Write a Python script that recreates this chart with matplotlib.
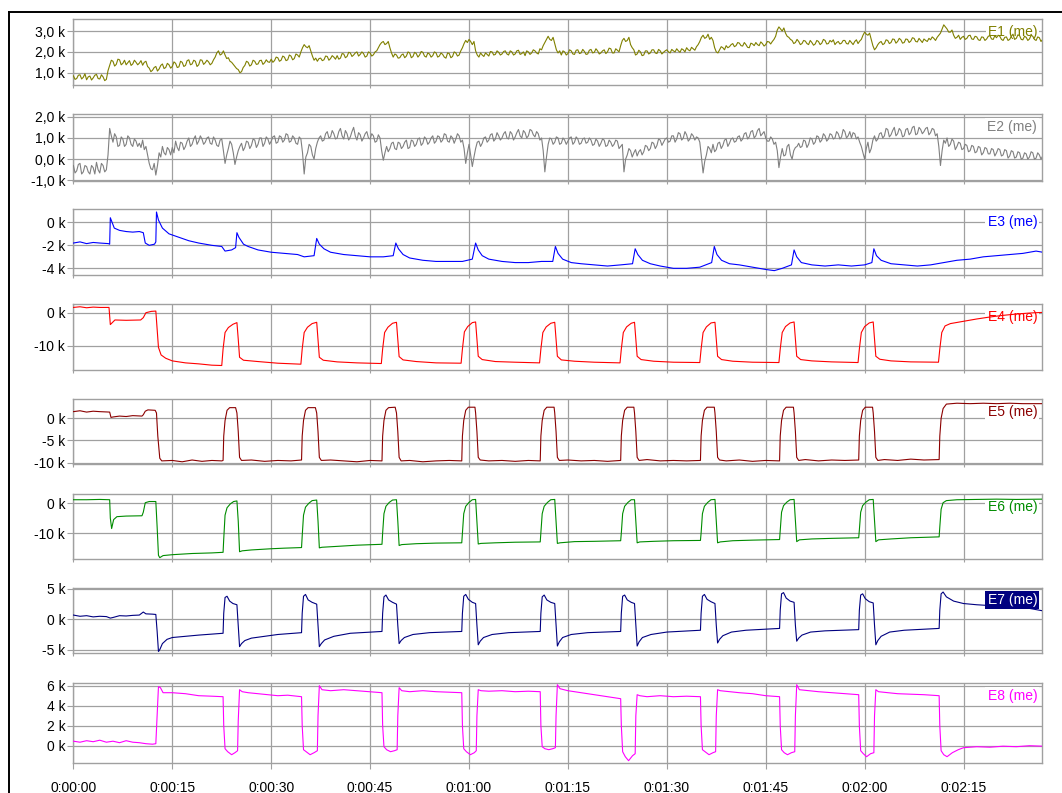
import numpy as np
import matplotlib
matplotlib.use("Agg")
import matplotlib.pyplot as plt
from matplotlib.lines import Line2D

plt.rcParams['font.family'] = ['Liberation Sans', 'DejaVu Sans']

# E1 / E2: samples every 0.5 s (e1, e2) plus the in-between samples at +0.25 s (e1_mid, e2_mid), in k
step = 0.5
e1 = [0.85, 0.72, 0.9, 0.78, 0.66, 0.84, 0.75, 0.92, 0.7, 0.8,
      0.68, 1.35, 1.55, 1.4, 1.62, 1.45, 1.38, 1.58, 1.42, 1.5,
      1.46, 1.36, 1.55, 1.22, 1.12, 1.3, 1.18, 1.42, 1.25, 1.38,
      1.3, 1.45, 1.28, 1.5, 1.35, 1.62, 1.42, 1.55, 1.38, 1.6,
      1.48, 1.52, 1.45, 1.75, 2.05, 1.9, 1.85, 1.72, 1.5, 1.3,
      1.15, 1.05, 1.35, 1.5, 1.38, 1.55, 1.42, 1.6, 1.48, 1.52,
      1.65, 1.58, 1.72, 1.6, 1.75, 1.62, 1.8, 1.68, 1.85, 2.0,
      2.35, 2.2, 2.05, 1.6, 1.55, 1.7, 1.62, 1.78, 1.68, 1.75,
      1.82, 1.7, 1.9, 1.78, 1.95, 1.85, 2.0, 1.88, 1.92, 1.8,
      1.95, 1.86, 2.05, 2.35, 2.5, 2.4, 2.2, 1.75, 1.85, 1.72,
      1.9, 1.8, 1.95, 1.78, 1.92, 1.85, 1.98, 1.75, 1.9, 1.82,
      1.95, 1.8, 1.88, 1.7, 1.92, 1.78, 1.95, 1.85, 2.2, 2.55,
      2.6, 2.35, 2.05, 1.75, 1.85, 1.95, 1.8, 2.0, 1.88, 1.98,
      1.9, 2.05, 1.85, 2.0, 1.9, 2.08, 1.92, 1.82, 2.0, 1.95,
      2.05, 1.9, 2.1, 2.45, 2.75, 2.55, 2.4, 1.95, 1.85, 2.0,
      1.92, 2.05, 1.88, 2.1, 1.95, 2.02, 1.9, 2.12, 1.98, 2.05,
      1.95, 2.1, 2.0, 2.15, 1.95, 2.08, 2.3, 2.65, 2.55, 2.35,
      2.1, 1.9, 2.0, 1.85, 2.05, 1.95, 2.1, 1.92, 2.05, 1.98,
      2.1, 1.95, 2.05, 2.15, 1.98, 2.1, 2.2, 2.05, 2.15, 2.25,
      2.5, 2.8, 2.7, 2.6, 2.55, 2.0, 2.1, 2.2, 2.3, 2.25,
      2.4, 2.3, 2.42, 2.28, 2.35, 2.2, 2.38, 2.45, 2.3, 2.4,
      2.35, 2.48, 2.5, 2.75, 3.2, 3.0, 2.9, 2.7, 2.55, 2.45,
      2.5, 2.4, 2.52, 2.35, 2.45, 2.38, 2.5, 2.42, 2.55, 2.4,
      2.48, 2.35, 2.5, 2.42, 2.55, 2.38, 2.45, 2.5, 2.4, 2.6,
      2.95, 2.8, 2.6, 2.1, 2.35, 2.5, 2.4, 2.55, 2.45, 2.6,
      2.5, 2.58, 2.45, 2.6, 2.52, 2.65, 2.48, 2.55, 2.62, 2.5,
      2.58, 2.65, 2.7, 2.9, 3.3, 3.1, 2.95, 2.8, 2.7, 2.6,
      2.75, 2.65, 2.8, 2.6, 2.72, 2.55, 2.7, 2.62, 2.78, 2.6,
      2.68, 2.75, 2.55, 2.72, 2.6, 2.85, 2.65, 2.78, 2.58, 2.7,
      2.62, 2.75, 2.55, 2.68, 2.6]

e1_mid = [0.68, 0.88, 0.7, 0.95, 0.8, 0.65, 0.88, 0.72, 0.9, 0.62,
          1.1, 1.6, 1.32, 1.65, 1.38, 1.6, 1.48, 1.35, 1.6, 1.38,
          1.58, 1.5, 1.3, 1.05, 1.25, 1.08, 1.35, 1.2, 1.45, 1.22,
          1.52, 1.25, 1.55, 1.3, 1.58, 1.38, 1.6, 1.3, 1.62, 1.4,
          1.6, 1.38, 1.62, 1.95, 1.85, 2.05, 1.68, 1.55, 1.4, 1.2,
          1.0, 1.25, 1.55, 1.32, 1.6, 1.4, 1.58, 1.4, 1.62, 1.5,
          1.5, 1.75, 1.55, 1.8, 1.58, 1.85, 1.62, 1.9, 1.75, 2.2,
          2.25, 2.3, 1.8, 1.7, 1.68, 1.58, 1.8, 1.6, 1.82, 1.65,
          1.65, 1.92, 1.72, 1.98, 1.78, 1.95, 1.8, 2.0, 1.75, 2.0,
          1.8, 2.0, 2.2, 2.45, 2.35, 2.5, 1.95, 1.9, 1.7, 1.85,
          1.72, 2.0, 1.72, 1.98, 1.75, 2.02, 1.8, 1.95, 1.75, 2.0,
          1.75, 1.95, 1.75, 1.95, 1.72, 2.0, 1.8, 2.05, 2.4, 2.45,
          2.5, 2.5, 1.85, 1.95, 1.78, 1.88, 2.02, 1.85, 2.05, 1.85,
          2.02, 1.9, 2.05, 1.85, 2.05, 1.88, 2.0, 2.05, 1.88, 2.1,
          1.95, 2.15, 2.3, 2.6, 2.6, 2.7, 2.1, 2.05, 2.05, 1.85,
          2.1, 1.9, 2.08, 1.92, 2.12, 1.88, 2.08, 1.95, 2.15, 1.9,
          2.05, 1.92, 2.18, 1.95, 2.15, 2.0, 2.55, 2.5, 2.7, 2.2,
          1.85, 2.08, 1.82, 2.05, 1.9, 2.1, 1.95, 2.12, 1.9, 2.05,
          2.0, 2.12, 2.0, 2.05, 2.15, 2.0, 2.1, 2.22, 2.08, 2.35,
          2.7, 2.65, 2.85, 2.7, 2.2, 1.95, 2.25, 2.1, 2.2, 2.35,
          2.25, 2.45, 2.3, 2.45, 2.22, 2.42, 2.3, 2.35, 2.48, 2.28,
          2.5, 2.38, 2.6, 3.05, 3.1, 3.15, 2.75, 2.6, 2.4, 2.6,
          2.35, 2.55, 2.4, 2.55, 2.32, 2.55, 2.35, 2.6, 2.38, 2.55,
          2.58, 2.45, 2.38, 2.55, 2.4, 2.55, 2.35, 2.58, 2.52, 2.8,
          2.85, 2.9, 2.3, 2.2, 2.45, 2.35, 2.58, 2.4, 2.62, 2.42,
          2.65, 2.42, 2.62, 2.45, 2.68, 2.5, 2.65, 2.45, 2.55, 2.65,
          2.72, 2.55, 2.8, 3.1, 3.2, 2.95, 3.05, 2.65, 2.8, 2.7,
          2.6, 2.78, 2.62, 2.75, 2.58, 2.72, 2.55, 2.75, 2.62, 2.78,
          2.8, 2.6, 2.7, 2.55, 2.75, 2.6, 2.82, 2.6, 2.75, 2.55,
          2.8, 2.6, 2.72, 2.5]

e2 = [-0.3, -0.55, -0.2, -0.6, -0.35, -0.7, -0.4, -0.15, -0.65, -0.3,
      -0.5, 1.45, 0.8, 1.05, 0.65, 0.95, 0.7, 1.0, 0.6, 0.85,
      0.75, 0.9, 0.6, -0.2, -0.5, -0.75, 0.3, 0.6, 0.2, 0.45,
      0.55, 0.85, 0.4, 0.75, 0.6, 1.0, 0.7, 1.1, 0.85, 0.95,
      0.8, 1.05, 0.7, 0.9, 0.6, 0.95, -0.2, 0.5, 0.7, -0.25,
      0.4, 0.75, 0.55, 0.8, 0.65, 0.9, 0.7, 1.0, 0.75, 0.95,
      0.85, 1.1, 0.8, 1.05, 0.9, 1.15, 0.85, 1.0, 0.7, 0.95,
      -0.7, 0.3, 0.6, 0.0, 0.8, 1.1, 0.9, 1.3, 1.05, 1.2,
      1.0, 1.45, 0.95, 1.2, 1.05, 1.5, 0.9, 1.15, 1.0, 1.3,
      0.95, 1.1, 0.85, 1.0, -0.05, 0.6, 0.5, 0.8, 0.45, 0.75,
      0.6, 0.9, 0.55, 0.85, 0.7, 1.0, 0.75, 0.95, 0.8, 1.1,
      0.85, 1.05, 0.9, 1.15, 0.8, 1.0, 0.95, 1.1, 0.9, -0.2,
      0.7, -0.35, 0.5, 0.85, 0.75, 1.05, 0.9, 1.2, 0.95, 1.1,
      1.0, 1.3, 0.95, 1.2, 1.05, 1.4, 1.0, 1.25, 1.1, 1.35,
      1.05, 1.2, 1.0, -0.6, 0.7, 0.95, 0.8, 1.0, 0.75, 0.9,
      0.85, 1.05, 0.8, 0.95, 0.75, 1.0, 0.8, 0.9, 0.7, 0.85,
      0.75, 0.9, 0.65, 0.8, 0.7, 0.85, 0.6, -0.6, 0.2, 0.4,
      0.3, 0.15, 0.45, 0.35, 0.6, 0.5, 0.75, 0.65, 0.9, 0.8,
      1.0, 0.85, 1.1, 0.95, 1.2, 1.0, 1.15, 0.95, 1.1, 1.05,
      0.8, -0.65, 0.2, 0.5, 0.7, 0.45, 0.8, 0.65, 0.95, 0.75,
      1.0, 0.85, 1.1, 0.95, 1.25, 1.05, 1.35, 1.1, 1.45, 1.2,
      1.0, 0.85, 0.95, 0.8, -0.4, 0.5, 0.2, 0.7, 0.0, 0.55,
      0.75, 0.6, 0.85, 0.7, 0.95, 0.8, 1.05, 0.9, 1.1, 0.95,
      1.15, 1.0, 1.2, 1.05, 1.3, 1.1, 1.0, 1.2, 1.05, 0.6,
      0.0, 0.8, 0.5, 1.1, 0.95, 1.25, 1.1, 1.4, 1.15, 1.5,
      1.2, 1.35, 1.1, 1.45, 1.25, 1.55, 1.2, 1.4, 1.3, 1.5,
      1.25, 1.4, 1.2, -0.3, 0.9, 1.0, 0.7, 0.85, 0.6, 0.75,
      0.5, 0.65, 0.4, 0.6, 0.35, 0.55, 0.3, 0.5, 0.25, 0.45,
      0.3, 0.45, 0.2, 0.4, 0.15, 0.35, 0.1, 0.3, 0.05, 0.25,
      0.1, 0.3, 0.05, 0.2, 0.15]

e2_mid = [-0.65, -0.25, -0.7, -0.3, -0.6, -0.3, -0.7, -0.5, -0.2, -0.6,
          0.2, 1.1, 1.2, 0.6, 1.05, 0.6, 1.1, 0.7, 0.95, 0.6,
          0.55, 0.45, 0.2, -0.45, -0.2, -0.3, 0.1, 0.3, 0.55, 0.2,
          0.3, 0.55, 0.8, 0.45, 0.85, 0.6, 0.95, 0.7, 1.1, 0.7,
          1.0, 0.75, 1.05, 0.65, 0.9, 0.4, 0.2, 0.85, 0.3, 0.1,
          0.6, 0.4, 0.85, 0.5, 0.95, 0.55, 1.0, 0.6, 1.05, 0.7,
          1.05, 0.75, 1.1, 0.8, 1.2, 0.8, 1.1, 0.75, 1.05, 0.3,
          0.1, 0.7, 0.2, 0.5, 1.0, 0.85, 1.2, 1.0, 1.35, 0.95,
          1.3, 1.1, 1.35, 0.9, 1.3, 1.1, 1.25, 0.85, 1.2, 1.0,
          1.2, 0.8, 1.15, 0.4, 0.3, 0.35, 0.75, 0.5, 0.8, 0.5,
          0.8, 0.5, 0.9, 0.6, 0.95, 0.65, 1.05, 0.7, 1.0, 0.75,
          1.1, 0.8, 1.2, 0.85, 1.1, 0.75, 1.2, 0.8, 0.5, 0.3,
          0.2, 0.1, 0.8, 0.6, 1.0, 0.8, 1.15, 0.85, 1.25, 0.9,
          1.2, 1.0, 1.3, 0.9, 1.25, 1.1, 1.35, 1.0, 1.4, 1.15,
          1.3, 0.9, 0.4, 0.1, 1.0, 0.7, 1.05, 0.7, 1.0, 0.7,
          1.0, 0.7, 1.05, 0.7, 0.95, 0.75, 1.0, 0.65, 0.95, 0.6,
          0.95, 0.6, 0.9, 0.6, 0.9, 0.5, 0.7, 0.0, 0.5, 0.1,
          0.45, 0.35, 0.2, 0.65, 0.4, 0.8, 0.5, 0.95, 0.65, 0.95,
          0.8, 1.1, 0.8, 1.25, 0.9, 1.3, 0.85, 1.2, 0.9, 1.0,
          0.1, -0.1, 0.6, 0.3, 0.35, 0.75, 0.5, 0.9, 0.6, 0.95,
          0.8, 1.05, 0.85, 1.2, 0.95, 1.3, 1.0, 1.35, 1.1, 1.3,
          0.85, 1.05, 0.7, 0.4, 0.1, 0.15, 0.6, 0.2, 0.4, 0.6,
          0.55, 0.9, 0.55, 1.0, 0.7, 1.1, 0.8, 1.2, 0.85, 1.2,
          0.95, 1.3, 0.95, 1.4, 1.0, 1.3, 1.25, 0.95, 0.8, 0.3,
          0.5, 0.3, 0.9, 0.85, 1.2, 1.0, 1.45, 1.05, 1.35, 1.1,
          1.45, 1.05, 1.4, 1.15, 1.5, 1.15, 1.5, 1.2, 1.45, 1.15,
          1.45, 1.1, 0.6, 0.4, 0.75, 0.6, 0.95, 0.45, 0.8, 0.45,
          0.7, 0.35, 0.65, 0.3, 0.6, 0.2, 0.55, 0.25, 0.5, 0.15,
          0.5, 0.15, 0.45, 0.05, 0.4, 0.05, 0.35, 0.0, 0.3, 0.0,
          0.35, 0.0, 0.3, 0.0]

# E3..E8 as (time s, value k) points
e3 = [(0, -1.8), (1, -1.7), (2, -1.85), (3, -1.75), (4, -1.8), (5.3, -1.85), (5.5, -1.9),
      (5.6, 0.4), (5.8, 0.1), (6.2, -0.5), (7, -0.7), (8, -0.8), (9, -0.85), (10, -0.8),
      (10.6, -0.9), (10.9, -1.8), (11.5, -2.0), (12.3, -1.9), (12.5, -1.7), (12.6, 0.9),
      (12.9, 0.2), (13.5, -0.5), (14.5, -1.0), (16, -1.3), (17.5, -1.6), (19, -1.8), (21, -2.0),
      (22.5, -2.1), (23.0, -2.5), (24.0, -2.4), (24.6, -2.2), (24.8, -0.9), (25.1, -1.3),
      (25.8, -1.9), (26.5, -2.1), (28, -2.4), (30, -2.6), (32, -2.7), (34, -2.8), (35, -3.0),
      (36.5, -2.9), (36.9, -1.4), (37.3, -1.9), (38, -2.3), (39, -2.6), (41, -2.8), (43, -2.9),
      (45, -3.0), (47, -3.0), (48.5, -2.9), (48.9, -1.8), (49.3, -2.3), (50, -2.8), (51, -3.1),
      (53, -3.3), (55, -3.4), (57, -3.4), (59, -3.4), (60.5, -3.2), (61.0, -1.8), (61.4, -2.4),
      (62, -2.9), (63, -3.2), (65, -3.4), (67, -3.5), (69, -3.5), (71, -3.4), (72.7, -3.4),
      (73.1, -2.1), (73.5, -2.7), (74.2, -3.2), (75.5, -3.5), (77, -3.6), (79, -3.7), (81, -3.8),
      (83, -3.7), (84.8, -3.6), (85.2, -2.3), (85.6, -2.8), (86.3, -3.3), (87.5, -3.6), (89, -3.8),
      (91, -4.0), (93, -4.0), (95, -3.9), (96.8, -3.5), (97.2, -2.1), (97.6, -2.8), (98.3, -3.3),
      (99.5, -3.6), (101, -3.7), (103, -3.9), (105, -4.1), (106.3, -4.2), (107.5, -4.0),
      (108.9, -3.7), (109.3, -2.4), (109.7, -3.0), (110.4, -3.5), (112, -3.7), (114, -3.8),
      (116, -3.7), (118, -3.8), (120, -3.7), (121.1, -3.5), (121.4, -2.3), (121.8, -2.9),
      (122.5, -3.3), (124, -3.6), (126, -3.7), (128, -3.8), (130, -3.7), (132, -3.5), (134, -3.3),
      (136, -3.2), (138, -3.0), (140, -2.9), (142, -2.8), (144, -2.7), (146, -2.5), (147, -2.6)]

e4 = [(0, 1.6), (1, 1.8), (2, 1.5), (3, 1.7), (4, 1.6), (5.4, 1.6), (5.6, -3.6), (5.9, -3.0),
      (6.3, -2.2), (8, -2.3), (10.2, -2.2), (10.6, -1.5), (11, 0.0), (11.8, 0.4), (12.5, 0.5),
      (12.7, -5), (12.9, -10.5), (13.3, -12.8), (14, -13.8), (15, -14.6), (17, -15.2), (19, -15.5),
      (21, -15.9), (22.5, -16.0),
      (22.7, -11), (23.0, -6.0), (23.5, -4.5), (24.2, -3.5), (24.8, -3.0), (25.0, -8), (25.2, -13.5),
      (25.8, -14.4), (28, -14.8), (31, -15.3), (34.5, -15.6),
      (34.7, -11), (35.0, -6.0), (35.5, -4.4), (36.2, -3.3), (36.9, -2.9), (37.1, -8), (37.3, -13.5),
      (37.9, -14.4), (40, -14.9), (43, -15.2), (46.7, -15.4),
      (46.9, -11), (47.2, -6.0), (47.7, -4.4), (48.4, -3.2), (49.0, -2.9), (49.2, -8), (49.4, -13.3),
      (50, -14.3), (52, -14.8), (55, -15.2), (58.8, -15.3),
      (59.0, -11), (59.3, -5.8), (59.8, -4.2), (60.5, -3.0), (61.0, -2.8), (61.2, -8), (61.4, -13.2),
      (62, -14.2), (64, -14.8), (67, -15.0), (70.7, -15.2),
      (70.9, -11), (71.2, -6), (71.7, -4.3), (72.4, -3.2), (73.0, -2.9), (73.2, -8), (73.4, -13.2),
      (74, -14.3), (76, -14.7), (79, -15.0), (82.9, -15.2),
      (83.1, -11), (83.4, -6), (83.9, -4.3), (84.6, -3.2), (85.1, -2.9), (85.3, -8), (85.5, -13.2),
      (86.1, -14.2), (88, -14.7), (91, -15.0), (95.0, -15.1),
      (95.2, -11), (95.5, -6), (96.0, -4.3), (96.7, -3.1), (97.3, -2.9), (97.5, -8), (97.7, -13.2),
      (98.3, -14.2), (100, -14.7), (103, -15.0), (107.0, -15.1),
      (107.2, -11), (107.5, -6), (108, -4.2), (108.7, -3.1), (109.3, -2.8), (109.5, -8), (109.7, -13.2),
      (110.3, -14.2), (112, -14.6), (115, -14.9), (119.0, -15.1),
      (119.2, -11), (119.5, -6), (120, -4.2), (120.7, -3.1), (121.3, -2.8), (121.5, -8), (121.7, -13.2),
      (122.3, -14.1), (124, -14.6), (127, -14.9), (131.2, -15.0),
      (131.4, -11), (131.7, -6.0), (132.2, -4.0), (133, -3.3), (135, -2.6), (137, -1.9), (139, -1.3),
      (141, -0.8), (143, -0.4), (145, -0.1), (147, 0.1)]

e5 = [(0, 1.5), (1, 1.7), (2, 1.4), (3, 1.6), (4, 1.5), (5.5, 1.4), (5.7, 0.2), (6.0, 0.3), (7, 0.5),
      (8, 0.4), (9, 0.6), (10.4, 0.5), (10.6, 0.8), (10.9, 1.6), (11.3, 1.9), (12.4, 1.8), (12.6, 1.2),
      (12.8, -4), (13.1, -9.0), (13.4, -9.6), (15, -9.5), (16.5, -9.8), (18, -9.4), (19.5, -9.7),
      (21, -9.5), (22.5, -9.6),
      (22.7, -9.5), (22.8, -4), (23.0, -0.5), (23.3, 1.8), (23.7, 2.4), (24.6, 2.4), (24.8, 1.2),
      (25.0, -3), (25.2, -8.8), (25.5, -9.5), (27, -9.4), (29, -9.7), (31, -9.5), (33, -9.6), (34.6, -9.4),
      (34.7, -4), (34.9, -0.5), (35.2, 1.8), (35.6, 2.4), (36.7, 2.4), (36.9, 1.2), (37.1, -3), (37.3, -8.8),
      (37.6, -9.5), (39, -9.4), (41, -9.6), (43, -9.8), (45, -9.5), (46.8, -9.6),
      (46.9, -4), (47.1, -0.5), (47.4, 1.8), (47.8, 2.4), (48.8, 2.5), (49.0, 1.2), (49.2, -3), (49.4, -8.8),
      (49.7, -9.6), (51, -9.5), (53, -9.8), (55, -9.6), (57, -9.5), (58.9, -9.6),
      (59.0, -4), (59.2, -0.5), (59.5, 1.8), (59.9, 2.5), (60.9, 2.5), (61.0, 1.2), (61.2, -3), (61.4, -8.8),
      (61.7, -9.4), (63, -9.6), (65, -9.5), (67, -9.7), (69, -9.5), (70.8, -9.6),
      (70.9, -4), (71.1, -0.5), (71.4, 1.8), (71.8, 2.5), (72.9, 2.5), (73.0, 1.2), (73.2, -3), (73.4, -8.8),
      (73.7, -9.5), (75, -9.4), (77, -9.6), (79, -9.5), (81, -9.7), (83.0, -9.5),
      (83.1, -4), (83.3, -0.5), (83.6, 1.8), (84.0, 2.5), (85.0, 2.5), (85.1, 1.2), (85.3, -3), (85.5, -8.8),
      (85.8, -9.5), (87, -9.3), (89, -9.6), (91, -9.5), (93, -9.6), (95.1, -9.5),
      (95.2, -4), (95.4, -0.5), (95.7, 1.8), (96.1, 2.5), (97.2, 2.5), (97.3, 1.2), (97.5, -3), (97.7, -8.8),
      (98.0, -9.4), (99, -9.6), (101, -9.4), (103, -9.7), (105, -9.5), (107.1, -9.6),
      (107.2, -4), (107.4, -0.5), (107.7, 1.8), (108.1, 2.5), (109.2, 2.5), (109.3, 1.2), (109.5, -3),
      (109.7, -8.8), (110, -9.5), (111, -9.3), (113, -9.6), (115, -9.4), (117, -9.5), (119.1, -9.4),
      (119.2, -4), (119.4, -0.5), (119.7, 1.8), (120.1, 2.5), (121.2, 2.5), (121.3, 1.2), (121.5, -3),
      (121.7, -8.8), (122, -9.5), (123, -9.3), (125, -9.5), (127, -9.2), (129, -9.4), (131.3, -9.3),
      (131.4, -4), (131.6, 0), (131.9, 2.2), (132.4, 3.2), (134, 3.4), (136, 3.3), (138, 3.4), (140, 3.3),
      (142, 3.4), (144, 3.3), (147, 3.3)]

e6 = [(0, 1.2), (2, 1.2), (4, 1.3), (5.5, 1.2), (5.6, -5), (5.8, -8.5), (6.1, -5.5), (6.6, -4.5),
      (8, -4.3), (10.4, -4.2), (10.6, -3), (10.9, 0.2), (11.5, 0.6), (12.5, 0.6), (12.7, -8),
      (12.9, -17.5), (13.1, -18.3), (13.6, -17.6), (15, -17.3), (18, -16.9), (21, -16.7), (22.5, -16.5),
      (22.7, -16.5), (22.8, -12), (23.0, -4), (23.3, -1.5), (23.8, -0.2), (24.3, 0.6), (24.8, 0.8),
      (25.0, -6), (25.2, -16.3), (25.6, -16.0), (27, -15.7), (30, -15.3), (32, -15.1), (34.6, -14.9),
      (34.7, -11), (34.9, -4), (35.2, -1.3), (35.7, 0), (36.2, 0.9), (36.9, 1.1), (37.1, -6), (37.3, -15.0),
      (37.7, -14.8), (40, -14.5), (43, -14.1), (46.8, -13.8),
      (46.9, -10), (47.1, -3.5), (47.4, -1.0), (47.9, 0.3), (48.4, 1.1), (49.0, 1.2), (49.2, -6),
      (49.4, -14.2), (49.8, -13.9), (52, -13.6), (55, -13.4), (58.9, -13.3),
      (59.0, -10), (59.2, -3.5), (59.5, -1.0), (60.0, 0.3), (60.5, 1.2), (61.0, 1.3), (61.2, -6),
      (61.4, -13.7), (61.8, -13.5), (64, -13.3), (67, -13.1), (70.8, -13.0),
      (70.9, -10), (71.1, -3.5), (71.4, -1.0), (71.9, 0.3), (72.4, 1.2), (73.0, 1.3), (73.2, -6),
      (73.4, -13.5), (73.8, -13.3), (76, -12.9), (79, -12.8), (83.0, -12.6),
      (83.1, -10), (83.3, -3.5), (83.6, -1.0), (84.1, 0.3), (84.6, 1.2), (85.1, 1.2), (85.3, -6),
      (85.5, -13.3), (85.9, -13.0), (88, -12.8), (91, -12.6), (95.1, -12.5),
      (95.2, -10), (95.4, -3.5), (95.7, -1.0), (96.2, 0.3), (96.7, 1.2), (97.3, 1.3), (97.5, -6),
      (97.7, -13.3), (98.1, -13.0), (100, -12.6), (103, -12.4), (107.1, -12.2),
      (107.2, -9), (107.4, -3), (107.7, -0.8), (108.2, 0.4), (108.7, 1.2), (109.3, 1.3), (109.5, -6),
      (109.7, -12.9), (110.1, -12.3), (112, -12.0), (115, -11.8), (119.1, -11.6),
      (119.2, -9), (119.4, -3), (119.7, -0.8), (120.2, 0.4), (120.7, 1.2), (121.3, 1.3), (121.5, -6),
      (121.7, -12.9), (122.1, -12.3), (124, -12.0), (127, -11.6), (131.3, -11.3),
      (131.4, -8), (131.6, -2), (131.9, 0.2), (132.4, 0.9), (134, 1.2), (137, 1.3), (140, 1.4),
      (143, 1.3), (147, 1.4)]

e7 = [(0, 0.7), (1, 0.5), (2, 0.6), (3, 0.4), (4, 0.5), (5, 0.45), (5.6, 0.2), (6, 0.3), (7, 0.6),
      (8, 0.55), (9, 0.65), (10, 0.7), (10.6, 1.2), (11, 0.9), (12, 0.85), (12.5, 0.8), (12.7, -2),
      (12.9, -5.3), (13.1, -5.0), (13.5, -4.0), (14.2, -3.3), (15, -3.0), (17, -2.8), (19, -2.6),
      (22.5, -2.3),
      (22.7, -2.3), (22.8, 1), (23.0, 3.6), (23.3, 3.8), (23.7, 3.0), (24.2, 2.6), (24.8, 2.4), (25.0, -1),
      (25.2, -4.5), (25.5, -4.0), (26, -3.5), (27, -3.1), (29, -2.8), (31, -2.5), (34.6, -2.2),
      (34.7, 1), (34.9, 3.8), (35.2, 4.1), (35.6, 3.2), (36.2, 2.8), (36.9, 2.5), (37.1, -1), (37.3, -4.5),
      (37.6, -4.0), (38.1, -3.4), (39.5, -2.8), (42, -2.3), (46.8, -2.0),
      (46.9, 1), (47.1, 3.7), (47.4, 4.0), (47.8, 3.2), (48.4, 2.8), (49.0, 2.5), (49.2, -1), (49.4, -4.0),
      (49.7, -3.5), (50.2, -3.0), (51.5, -2.5), (54, -2.2), (58.9, -2.0),
      (59.0, 1), (59.2, 3.8), (59.5, 4.1), (59.9, 3.3), (60.5, 2.8), (61.0, 2.6), (61.2, -1), (61.4, -4.2),
      (61.7, -3.6), (62.2, -3.0), (63.5, -2.5), (66, -2.2), (70.8, -2.0),
      (70.9, 1), (71.1, 3.7), (71.4, 4.0), (71.8, 3.2), (72.4, 2.8), (73.0, 2.6), (73.2, -1), (73.4, -4.4),
      (73.7, -3.7), (74.2, -3.0), (75.5, -2.5), (78, -2.2), (83.0, -2.0),
      (83.1, 1), (83.3, 3.8), (83.6, 4.0), (84.0, 3.2), (84.6, 2.8), (85.1, 2.6), (85.3, -1), (85.5, -4.4),
      (85.8, -3.7), (86.3, -3.0), (87.6, -2.5), (90, -2.1), (95.1, -1.8),
      (95.2, 1), (95.4, 3.8), (95.7, 4.1), (96.1, 3.3), (96.7, 2.9), (97.3, 2.6), (97.5, -1), (97.7, -3.9),
      (98.0, -3.3), (98.5, -2.7), (99.8, -2.1), (102, -1.8), (107.1, -1.5),
      (107.2, 1.5), (107.4, 4.2), (107.7, 4.4), (108.1, 3.5), (108.7, 3.0), (109.3, 2.8), (109.5, -1),
      (109.7, -3.6), (110.0, -3.1), (110.5, -2.6), (111.8, -2.1), (114, -1.9), (119.1, -1.7),
      (119.2, 1.5), (119.4, 4.0), (119.7, 4.2), (120.1, 3.4), (120.7, 2.9), (121.3, 2.7), (121.5, -1),
      (121.7, -4.2), (122.0, -3.5), (122.5, -2.8), (123.8, -2.1), (126, -1.8), (131.3, -1.5),
      (131.4, 1.5), (131.6, 4.2), (131.9, 4.5), (132.4, 3.7), (133.5, 3.0), (135, 2.6), (137, 2.4),
      (140, 2.2), (143, 2.0), (145, 1.8), (146.5, 1.5), (147, 1.4)]

e8 = [(0, 0.45), (1, 0.35), (2, 0.5), (3, 0.4), (4, 0.55), (5, 0.35), (6, 0.45), (7, 0.3), (8, 0.5),
      (9, 0.35), (10, 0.3), (11, 0.2), (12, 0.15), (12.5, 0.2), (12.7, 3), (12.9, 5.9), (13.2, 5.8),
      (13.6, 5.3), (15, 5.3), (17, 5.2), (19, 5.0), (21, 4.95), (22.5, 4.9),
      (22.7, 4.9), (22.8, 2), (23.0, -0.3), (23.4, -0.6), (24.0, -0.9), (24.5, -0.7), (24.9, -0.5),
      (25.0, 2.5), (25.2, 5.6), (25.6, 5.4), (26.5, 5.3), (28, 5.2), (29.5, 5.1), (31, 5.0), (32.5, 5.05),
      (34.6, 4.9),
      (34.7, 2), (34.9, -0.4), (35.3, -0.6), (35.9, -0.9), (36.5, -0.7), (37.0, -0.5), (37.1, 3),
      (37.3, 6.0), (37.7, 5.6), (39, 5.5), (41, 5.6), (43, 5.5), (45, 5.4), (46.8, 5.3),
      (46.9, 2), (47.1, -0.1), (47.5, -0.4), (48.1, -0.6), (48.7, -0.5), (49.1, -0.4), (49.2, 3),
      (49.4, 5.8), (49.8, 5.5), (51, 5.4), (53, 5.5), (55, 5.4), (57, 5.35), (58.9, 5.3),
      (59.0, 2), (59.2, -0.3), (59.6, -0.6), (60.2, -0.9), (60.8, -0.7), (61.1, -0.5), (61.2, 3),
      (61.4, 5.6), (61.8, 5.5), (63, 5.45), (65, 5.5), (67, 5.4), (69, 5.45), (70.8, 5.4),
      (70.9, 2), (71.1, -0.1), (71.5, -0.3), (72.1, -0.4), (72.7, -0.3), (73.1, -0.2), (73.2, 3),
      (73.4, 6.1), (73.8, 5.7), (75, 5.5), (77, 5.3), (79, 5.1), (81, 4.9), (83.0, 4.7),
      (83.1, 2), (83.3, -0.6), (83.7, -1.1), (84.2, -1.5), (84.8, -1.0), (85.2, -0.8), (85.3, 3),
      (85.5, 5.1), (85.9, 5.0), (87, 4.9), (89, 5.0), (91, 4.9), (93, 4.95), (95.1, 4.9),
      (95.2, 2), (95.4, -0.4), (95.8, -0.6), (96.4, -0.9), (97.0, -0.7), (97.4, -0.6), (97.5, 3),
      (97.7, 5.6), (98.1, 5.5), (99.5, 5.4), (101, 5.3), (103, 5.2), (105, 5.0), (107.1, 4.9),
      (107.2, 2), (107.4, -0.4), (107.8, -0.7), (108.3, -0.9), (108.9, -0.7), (109.4, -0.6), (109.5, 3),
      (109.7, 6.1), (110.1, 5.6), (111.5, 5.5), (113, 5.4), (115, 5.3), (117, 5.2), (119.1, 5.1),
      (119.2, 2), (119.4, -0.5), (119.8, -0.8), (120.3, -1.1), (120.9, -0.8), (121.4, -0.7), (121.5, 3),
      (121.7, 5.6), (122.1, 5.4), (123.5, 5.3), (125, 5.2), (127, 5.15), (129, 5.1), (131.3, 5.0),
      (131.4, 2), (131.6, -0.5), (132.0, -0.9), (132.5, -1.1), (133.3, -0.7), (134.2, -0.4), (135, -0.2),
      (137, -0.1), (139, -0.15), (141, -0.05), (143, -0.1), (145, 0.0), (147, -0.05)]

names = ["E1 (me)", "E2 (me)", "E3 (me)", "E4 (me)", "E5 (me)", "E6 (me)", "E7 (me)", "E8 (me)"]
colors = ["#808000", "#808080", "#0000ff", "#ff0000", "#8b0000", "#008c00", "#000080", "#ff00ff"]
yticks = [[1, 2, 3], [-1, 0, 1, 2], [-4, -2, 0], [-10, 0], [-10, -5, 0], [-10, 0], [-5, 0, 5],
          [0, 2, 4, 6]]
ylims = [(0.41, 3.58), (-1.03, 2.13), (-4.58, 1.16), (-17.36, 2.64), (-10.3, 4.35),
         (-18.75, 3.13), (-5.55, 5.16), (-1.73, 6.27)]
xtick_sec = list(range(0, 136, 15))
xtick_lbl = ["0:00:00", "0:00:15", "0:00:30", "0:00:45", "0:01:00", "0:01:15", "0:01:30",
             "0:01:45", "0:02:00", "0:02:15"]

# panel boxes in pixels (top, bottom)
W, H = 1062, 793
tops = [19, 114, 209, 304, 399, 494, 588, 683]
bots = [85, 181, 275, 370, 464, 559, 653, 763]
x_left, x_right = 73.4, 1042

grid_c = "#a0a0a0"


def merge(even, mid):
    # put the 0.5 s samples and the +0.25 s samples on one time axis
    t = np.concatenate([np.arange(len(even)) * step, np.arange(len(mid)) * step + step / 2])
    v = np.concatenate([even, mid])
    o = np.argsort(t, kind="stable")
    return t[o], v[o]


series = [merge(e1, e1_mid), merge(e2, e2_mid)]
for pts in (e3, e4, e5, e6, e7, e8):
    a = np.array(pts)
    series.append((a[:, 0], a[:, 1]))

fig = plt.figure(figsize=(W / 100, H / 100), dpi=100)
fig.patch.set_facecolor("white")

for i in range(8):
    ax = fig.add_axes([x_left / W, 1 - bots[i] / H, (x_right - x_left) / W, (bots[i] - tops[i]) / H])
    tt, vv = series[i]
    ax.plot(tt, vv, color=colors[i], lw=0.8, zorder=3)
    ax.set_xlim(0, 146.9)
    ax.set_ylim(*ylims[i])
    ax.set_xticks(xtick_sec)
    ax.set_yticks(yticks[i])
    if i < 2:
        ax.set_yticklabels([("%.1f k" % v).replace(".", ",") for v in yticks[i]])
    else:
        ax.set_yticklabels(["%d k" % v for v in yticks[i]])
    if i == 7:
        ax.set_xticklabels(xtick_lbl)
        ax.tick_params(axis="x", length=4, pad=9)
    else:
        ax.set_xticklabels([])
        ax.tick_params(axis="x", length=2.5)
    ax.tick_params(axis="both", color=grid_c, labelsize=10, labelcolor="black")
    ax.tick_params(axis="y", length=4.3, pad=1.5)
    ax.set_axisbelow(True)
    ax.grid(True, color=grid_c, lw=0.9)
    for sp in ax.spines.values():
        sp.set_color(grid_c)
        sp.set_linewidth(1.0)
    h = bots[i] - tops[i]
    if i == 6:
        ax.text(0.995, 1 - 12 / h, names[i], transform=ax.transAxes, ha="right", va="center",
                color="white", fontsize=10, zorder=2,
                bbox=dict(facecolor=colors[i], edgecolor="none", pad=1.5))
    else:
        ax.text(0.995, 1 - 13 / h, names[i], transform=ax.transAxes, ha="right", va="center",
                color=colors[i], fontsize=10, zorder=2,
                bbox=dict(facecolor="white", edgecolor="none", pad=1.5))

# outer black frame (left and top edges)
fig.add_artist(Line2D([8.5 / W, 8.5 / W], [0, 1 - 11.5 / H], color="black", lw=1.4))
fig.add_artist(Line2D([8.5 / W, 1], [1 - 11.5 / H, 1 - 11.5 / H], color="black", lw=1.4))

fig.savefig("out.png", dpi=100)
